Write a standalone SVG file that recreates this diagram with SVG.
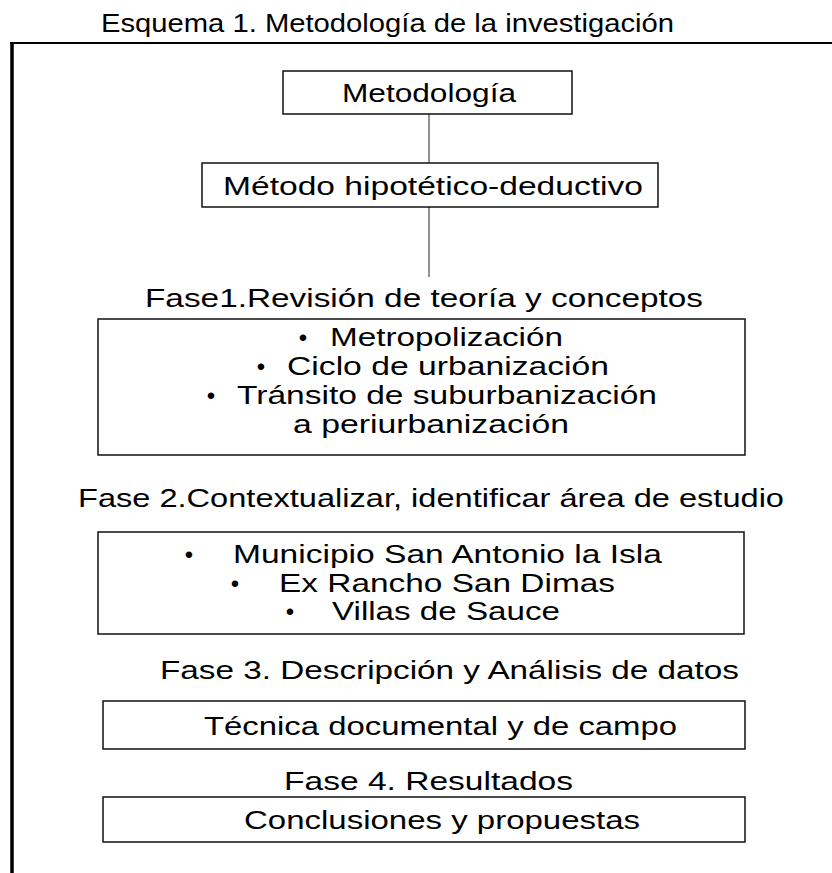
<svg xmlns="http://www.w3.org/2000/svg" width="832" height="873" viewBox="0 0 832 873">
<style>
.t{font-family:"Liberation Sans",Arial,sans-serif;font-size:26px;fill:#000}
.ttl{font-family:"Liberation Sans Narrow","Liberation Sans",Arial,sans-serif;font-size:26px;fill:#000}
.b{font-family:"Liberation Sans",Arial,sans-serif;font-size:24px;fill:#000;text-anchor:middle}
.box{fill:#fff;stroke:#111;stroke-width:1.5}
.conn{stroke:#555;stroke-width:1.3;fill:none}
.frame{stroke:#000;fill:none}
</style>
<rect width="832" height="873" fill="#fff"/>
<g id="title">
<text class="ttl" x="101" y="32" textLength="573" lengthAdjust="spacingAndGlyphs">Esquema 1. Metodología de la investigación</text>
</g>
<g id="frame">
<line class="frame" x1="10" y1="43" x2="832" y2="43" stroke-width="2"/>
<line class="frame" x1="12" y1="42" x2="12" y2="873" stroke-width="3.5"/>
</g>
<g id="connectors">
<line class="conn" x1="429" y1="114" x2="429" y2="163"/>
<line class="conn" x1="429" y1="207" x2="429" y2="277"/>
</g>
<g id="metodologia">
<rect class="box" x="283" y="71" width="289" height="43"/>
<text class="t" x="342" y="102" textLength="174" lengthAdjust="spacingAndGlyphs">Metodología</text>
</g>
<g id="metodo">
<rect class="box" x="202" y="163" width="456" height="44"/>
<text class="t" x="223" y="195" textLength="420" lengthAdjust="spacingAndGlyphs">Método hipotético-deductivo</text>
</g>
<g id="fase1">
<text class="t" x="145" y="307" textLength="558" lengthAdjust="spacingAndGlyphs">Fase1.Revisión de teoría y conceptos</text>
<rect class="box" x="98" y="319" width="647" height="136"/>
<text class="b" x="303" y="346">•</text>
<text class="t" x="330" y="346" textLength="233" lengthAdjust="spacingAndGlyphs">Metropolización</text>
<text class="b" x="261" y="375">•</text>
<text class="t" x="287" y="375" textLength="322" lengthAdjust="spacingAndGlyphs">Ciclo de urbanización</text>
<text class="b" x="211" y="404">•</text>
<text class="t" x="237" y="404" textLength="420" lengthAdjust="spacingAndGlyphs">Tránsito de suburbanización</text>
<text class="t" x="293" y="433" textLength="276" lengthAdjust="spacingAndGlyphs">a periurbanización</text>
</g>
<g id="fase2">
<text class="t" x="78" y="507" textLength="706" lengthAdjust="spacingAndGlyphs">Fase 2.Contextualizar, identificar área de estudio</text>
<rect class="box" x="98" y="532" width="646" height="102"/>
<text class="b" x="189" y="563">•</text>
<text class="t" x="233" y="563" textLength="429" lengthAdjust="spacingAndGlyphs">Municipio San Antonio la Isla</text>
<text class="b" x="235" y="592">•</text>
<text class="t" x="279" y="592" textLength="336" lengthAdjust="spacingAndGlyphs">Ex Rancho San Dimas</text>
<text class="b" x="290" y="620">•</text>
<text class="t" x="332" y="620" textLength="228" lengthAdjust="spacingAndGlyphs">Villas de Sauce</text>
</g>
<g id="fase3">
<text class="t" x="160" y="679" textLength="579" lengthAdjust="spacingAndGlyphs">Fase 3. Descripción y Análisis de datos</text>
<rect class="box" x="103" y="701" width="642" height="48"/>
<text class="t" x="204" y="735" textLength="473" lengthAdjust="spacingAndGlyphs">Técnica documental y de campo</text>
</g>
<g id="fase4">
<text class="t" x="284" y="790" textLength="289" lengthAdjust="spacingAndGlyphs">Fase 4. Resultados</text>
<rect class="box" x="103" y="797" width="642" height="45"/>
<text class="t" x="244" y="829" textLength="396" lengthAdjust="spacingAndGlyphs">Conclusiones y propuestas</text>
</g>
</svg>
